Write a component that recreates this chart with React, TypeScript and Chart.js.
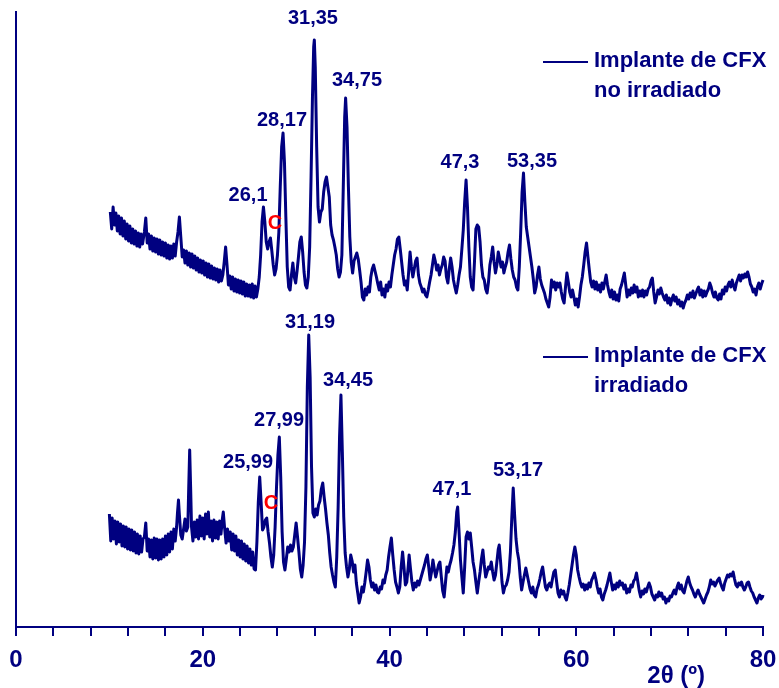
import { useEffect, useRef } from "react";
import { Chart, registerables } from "chart.js";

Chart.register(...registerables);

const NAVY = "#000080";
const RED = "#ff0000";
const FONT = "'Liberation Sans', Arial, Helvetica, sans-serif";

// axis
const xMin = 0;
const xMax = 80;
const xMinorStep = 4;
const xLabelStep = 20;
const xTitle = "2θ (º)";
const yMax = 615;

// series names
const seriesNames = ["Implante de CFX no irradiado", "Implante de CFX irradiado"];
const legendLines = [
  ["Implante de CFX", "no irradiado"],
  ["Implante de CFX", "irradiado"],
];

// [2θ (deg), intensity (a.u., stacked)]
const topPattern: [number, number][] = [
  [10.1, 415], [10.25, 398], [10.4, 420], [10.55, 402], [10.7, 414], [10.85, 396], [11.0, 411], [11.15, 393],
  [11.3, 409], [11.45, 391], [11.6, 406], [11.75, 388], [11.9, 403], [12.05, 386], [12.2, 401], [12.35, 384],
  [12.5, 398], [12.65, 383], [12.8, 396], [12.95, 381], [13.1, 394], [13.25, 380], [13.4, 393], [13.55, 383],
  [13.75, 395], [13.9, 409], [14.05, 384], [14.2, 393], [14.35, 378], [14.5, 391], [14.65, 376], [14.8, 389],
  [14.95, 375], [15.1, 388], [15.25, 373], [15.4, 387], [15.55, 372], [15.7, 385], [15.85, 371], [16.0, 384],
  [16.15, 369], [16.3, 382], [16.45, 368], [16.6, 381], [16.75, 369], [16.9, 383], [17.05, 371], [17.2, 385],
  [17.35, 395], [17.5, 410], [17.65, 390], [17.8, 370], [17.95, 377], [18.1, 364], [18.25, 376], [18.4, 362],
  [18.55, 374], [18.7, 360], [18.85, 373], [19.0, 359], [19.15, 371], [19.3, 357], [19.45, 369], [19.6, 355],
  [19.75, 367], [19.9, 354], [20.05, 366], [20.2, 352], [20.35, 364], [20.5, 350], [20.65, 363], [20.8, 349],
  [20.95, 361], [21.1, 348], [21.25, 359], [21.4, 347], [21.55, 358], [21.7, 345], [21.85, 357], [22.0, 346],
  [22.15, 352], [22.3, 365], [22.45, 380], [22.6, 362], [22.75, 342], [22.9, 351], [23.05, 338], [23.2, 350],
  [23.35, 336], [23.5, 348], [23.65, 335], [23.8, 347], [23.95, 334], [24.1, 346], [24.25, 333], [24.4, 345],
  [24.55, 331], [24.7, 343], [24.85, 331], [25.0, 342], [25.15, 330], [25.3, 343], [25.45, 329], [25.6, 341],
  [25.75, 330], [25.9, 338], [26.05, 350], [26.2, 372], [26.35, 405], [26.5, 420], [26.65, 405], [26.8, 385],
  [26.95, 378], [27.1, 385], [27.25, 389], [27.4, 376], [27.55, 362], [27.7, 352], [27.85, 358], [28.0, 372],
  [28.15, 395], [28.3, 440], [28.45, 480], [28.6, 494], [28.75, 465], [28.9, 410], [29.05, 360], [29.2, 340],
  [29.35, 337], [29.5, 352], [29.65, 364], [29.8, 350], [29.95, 344], [30.1, 356], [30.25, 370], [30.4, 385],
  [30.55, 390], [30.7, 375], [30.85, 355], [31.0, 342], [31.15, 339], [31.3, 350], [31.45, 380], [31.6, 450],
  [31.75, 530], [31.88, 580], [31.95, 587], [32.05, 560], [32.2, 480], [32.35, 420], [32.5, 405], [32.65, 415],
  [32.8, 418], [32.95, 435], [33.1, 445], [33.25, 450], [33.4, 440], [33.55, 430], [33.7, 402], [33.85, 392],
  [34.0, 387], [34.15, 380], [34.3, 372], [34.45, 358], [34.6, 350], [34.75, 355], [34.9, 372], [35.05, 440],
  [35.2, 510], [35.3, 529], [35.45, 500], [35.6, 440], [35.75, 390], [35.9, 365], [36.05, 354], [36.2, 366],
  [36.35, 370], [36.5, 374], [36.65, 368], [36.8, 357], [36.95, 345], [37.1, 330], [37.25, 327], [37.4, 338],
  [37.55, 332], [37.7, 340], [37.85, 335], [38.0, 350], [38.15, 358], [38.3, 362], [38.45, 356], [38.6, 350],
  [38.75, 343], [38.9, 337], [39.05, 345], [39.2, 332], [39.35, 338], [39.5, 330], [39.65, 342], [39.8, 336],
  [39.95, 345], [40.1, 340], [40.25, 352], [40.4, 362], [40.55, 372], [40.7, 378], [40.85, 388], [41.0, 390],
  [41.15, 378], [41.3, 365], [41.45, 352], [41.6, 342], [41.75, 346], [41.9, 337], [42.05, 355], [42.2, 375],
  [42.35, 360], [42.5, 350], [42.65, 358], [42.8, 366], [42.95, 369], [43.1, 352], [43.25, 344], [43.4, 340],
  [43.55, 335], [43.7, 338], [43.85, 332], [44.0, 330], [44.15, 337], [44.3, 345], [44.45, 352], [44.6, 362],
  [44.75, 372], [44.9, 366], [45.05, 357], [45.2, 362], [45.35, 352], [45.5, 358], [45.65, 362], [45.8, 370],
  [45.95, 366], [46.1, 350], [46.25, 344], [46.4, 358], [46.55, 369], [46.7, 360], [46.85, 347], [47.0, 340],
  [47.15, 334], [47.3, 342], [47.45, 352], [47.6, 360], [47.75, 378], [47.9, 397], [48.05, 425], [48.2, 447],
  [48.35, 420], [48.5, 380], [48.65, 350], [48.8, 340], [48.95, 337], [49.1, 365], [49.25, 398], [49.4, 402],
  [49.55, 400], [49.7, 385], [49.85, 362], [50.0, 350], [50.15, 347], [50.3, 338], [50.45, 334], [50.6, 345],
  [50.75, 362], [50.9, 370], [51.05, 380], [51.2, 365], [51.35, 354], [51.5, 362], [51.65, 375], [51.8, 368],
  [51.95, 360], [52.1, 365], [52.25, 354], [52.4, 360], [52.55, 365], [52.7, 375], [52.85, 382], [53.0, 368],
  [53.15, 357], [53.3, 350], [53.45, 347], [53.6, 340], [53.75, 337], [53.9, 360], [54.05, 395], [54.2, 435],
  [54.35, 454], [54.5, 425], [54.65, 400], [54.8, 390], [54.95, 380], [55.1, 370], [55.25, 360], [55.4, 348],
  [55.55, 334], [55.7, 340], [55.85, 352], [56.0, 360], [56.15, 348], [56.3, 342], [56.45, 338], [56.6, 334],
  [56.75, 328], [56.9, 324], [57.05, 320], [57.2, 330], [57.35, 347], [57.5, 340], [57.65, 345], [57.8, 337],
  [57.95, 344], [58.1, 340], [58.25, 344], [58.4, 335], [58.55, 328], [58.7, 324], [58.85, 340], [59.0, 354],
  [59.15, 345], [59.3, 335], [59.45, 330], [59.6, 337], [59.75, 330], [59.9, 322], [60.05, 328], [60.2, 320],
  [60.35, 330], [60.5, 342], [60.65, 350], [60.8, 362], [60.95, 375], [61.1, 384], [61.25, 370], [61.4, 357],
  [61.55, 345], [61.7, 340], [61.85, 346], [62.0, 338], [62.15, 345], [62.3, 337], [62.45, 342], [62.6, 335],
  [62.75, 344], [62.9, 338], [63.05, 345], [63.2, 352], [63.35, 342], [63.5, 335], [63.65, 330], [63.8, 337],
  [63.95, 328], [64.1, 335], [64.25, 327], [64.4, 332], [64.55, 326], [64.7, 338], [64.85, 342], [65.0, 348],
  [65.15, 354], [65.3, 342], [65.45, 330], [65.6, 337], [65.75, 332], [65.9, 339], [66.05, 334], [66.2, 342],
  [66.35, 335], [66.5, 340], [66.65, 330], [66.8, 336], [66.95, 331], [67.1, 337], [67.25, 330], [67.4, 336],
  [67.55, 332], [67.7, 338], [67.85, 340], [68.0, 346], [68.15, 349], [68.3, 335], [68.45, 324], [68.6, 330],
  [68.75, 337], [68.9, 333], [69.05, 339], [69.2, 334], [69.35, 330], [69.5, 327], [69.65, 332], [69.8, 324],
  [69.95, 329], [70.1, 322], [70.25, 328], [70.4, 332], [70.55, 326], [70.7, 330], [70.85, 323], [71.0, 327],
  [71.15, 321], [71.3, 325], [71.45, 319], [71.6, 324], [71.75, 327], [71.9, 332], [72.05, 328], [72.2, 334],
  [72.35, 330], [72.5, 336], [72.65, 329], [72.8, 333], [72.95, 337], [73.1, 340], [73.25, 332], [73.4, 337],
  [73.55, 330], [73.7, 336], [73.85, 331], [74.0, 335], [74.15, 338], [74.3, 344], [74.45, 340], [74.6, 334],
  [74.75, 330], [74.9, 335], [75.05, 329], [75.2, 327], [75.35, 333], [75.5, 328], [75.65, 337], [75.8, 333],
  [75.95, 340], [76.1, 336], [76.25, 342], [76.4, 345], [76.55, 340], [76.7, 347], [76.85, 341], [77.0, 337],
  [77.15, 344], [77.3, 348], [77.45, 352], [77.6, 346], [77.75, 352], [77.9, 349], [78.05, 353], [78.2, 350],
  [78.35, 355], [78.5, 350], [78.65, 343], [78.8, 340], [78.95, 335], [79.1, 338], [79.25, 332], [79.4, 340],
  [79.55, 344], [79.7, 338], [79.85, 343], [80.0, 347], [80.15, 340], [80.3, 332], [80.45, 327], [80.6, 333],
  [80.75, 330], [80.9, 334], [81.05, 328], [81.2, 324], [81.35, 330], [81.5, 327], [81.65, 331],
];

const bottomPattern: [number, number][] = [
  [10.0, 113], [10.15, 86], [10.3, 109], [10.45, 88], [10.6, 106], [10.75, 83], [10.9, 105], [11.05, 85],
  [11.2, 103], [11.35, 81], [11.5, 101], [11.65, 80], [11.8, 100], [11.95, 78], [12.1, 98], [12.25, 77],
  [12.4, 97], [12.55, 76], [12.7, 95], [12.85, 74], [13.0, 93], [13.15, 73], [13.3, 91], [13.45, 75],
  [13.6, 88], [13.75, 90], [13.9, 104], [14.05, 76], [14.2, 88], [14.35, 70], [14.5, 87], [14.65, 68],
  [14.8, 89], [14.95, 69], [15.1, 88], [15.25, 67], [15.4, 87], [15.55, 68], [15.7, 88], [15.85, 70],
  [16.0, 91], [16.15, 72], [16.3, 93], [16.45, 75], [16.6, 95], [16.75, 78], [16.9, 98], [17.05, 86],
  [17.2, 100], [17.3, 115], [17.4, 127], [17.5, 112], [17.65, 92], [17.8, 88], [17.95, 98], [18.1, 108],
  [18.25, 96], [18.4, 100], [18.5, 140], [18.6, 177], [18.7, 140], [18.8, 100], [18.95, 86], [19.1, 105],
  [19.25, 90], [19.4, 107], [19.55, 88], [19.7, 111], [19.85, 91], [20.0, 109], [20.15, 88], [20.3, 113],
  [20.45, 93], [20.6, 115], [20.75, 90], [20.9, 106], [21.05, 86], [21.2, 107], [21.35, 89], [21.5, 105],
  [21.65, 88], [21.8, 106], [21.95, 93], [22.1, 108], [22.2, 115], [22.35, 98], [22.5, 84], [22.65, 98],
  [22.8, 86], [22.95, 95], [23.1, 77], [23.25, 93], [23.4, 76], [23.55, 91], [23.7, 72], [23.85, 87],
  [24.0, 70], [24.15, 86], [24.3, 68], [24.45, 83], [24.6, 66], [24.75, 81], [24.9, 64], [25.05, 78],
  [25.2, 62], [25.35, 75], [25.5, 58], [25.65, 57], [25.8, 85], [25.95, 125], [26.1, 150], [26.25, 125],
  [26.4, 97], [26.55, 100], [26.7, 107], [26.85, 109], [27.0, 95], [27.15, 84], [27.3, 70], [27.45, 60],
  [27.6, 72], [27.75, 100], [27.9, 140], [28.05, 172], [28.2, 190], [28.35, 150], [28.5, 95], [28.65, 65],
  [28.8, 57], [28.95, 68], [29.1, 80], [29.25, 75], [29.4, 82], [29.55, 76], [29.7, 80], [29.85, 92],
  [30.0, 104], [30.15, 90], [30.3, 75], [30.45, 58], [30.6, 50], [30.75, 62], [30.9, 85], [31.05, 140],
  [31.2, 240], [31.35, 292], [31.5, 250], [31.65, 160], [31.8, 114], [31.95, 110], [32.1, 118], [32.25, 112],
  [32.4, 122], [32.55, 126], [32.7, 138], [32.85, 144], [33.0, 130], [33.15, 118], [33.3, 104], [33.45, 92],
  [33.6, 74], [33.75, 60], [33.9, 52], [34.05, 45], [34.2, 40], [34.35, 70], [34.5, 120], [34.65, 190],
  [34.8, 232], [34.95, 175], [35.1, 110], [35.25, 74], [35.4, 60], [35.55, 50], [35.7, 58], [35.85, 72],
  [36.0, 66], [36.15, 55], [36.3, 62], [36.45, 44], [36.6, 34], [36.75, 24], [36.9, 30], [37.05, 40],
  [37.2, 35], [37.35, 44], [37.5, 55], [37.65, 67], [37.8, 60], [37.95, 47], [38.1, 40], [38.25, 44],
  [38.4, 37], [38.55, 42], [38.7, 35], [38.85, 34], [39.0, 40], [39.15, 38], [39.3, 47], [39.45, 44],
  [39.6, 52], [39.75, 57], [39.9, 70], [40.05, 80], [40.2, 89], [40.35, 72], [40.5, 57], [40.65, 45],
  [40.8, 40], [40.95, 34], [41.1, 40], [41.25, 60], [41.4, 75], [41.55, 60], [41.7, 42], [41.85, 45],
  [42.0, 60], [42.1, 72], [42.25, 58], [42.4, 45], [42.55, 37], [42.7, 44], [42.85, 40], [43.0, 46],
  [43.15, 42], [43.3, 47], [43.45, 52], [43.6, 57], [43.75, 62], [43.9, 68], [44.05, 72], [44.2, 60],
  [44.35, 47], [44.5, 55], [44.65, 67], [44.8, 58], [44.95, 50], [45.1, 56], [45.25, 62], [45.4, 65],
  [45.55, 50], [45.7, 36], [45.85, 30], [46.0, 45], [46.15, 60], [46.3, 55], [46.45, 62], [46.6, 67],
  [46.75, 74], [46.9, 82], [47.05, 95], [47.2, 115], [47.3, 120], [47.45, 95], [47.6, 67], [47.75, 50],
  [47.9, 34], [48.05, 60], [48.2, 90], [48.35, 95], [48.5, 88], [48.65, 94], [48.8, 80], [48.95, 65],
  [49.1, 57], [49.25, 45], [49.4, 34], [49.55, 45], [49.7, 55], [49.85, 68], [50.0, 77], [50.15, 62],
  [50.3, 50], [50.45, 55], [50.6, 60], [50.75, 58], [50.9, 65], [51.05, 55], [51.2, 47], [51.35, 52],
  [51.5, 65], [51.65, 78], [51.75, 82], [51.9, 65], [52.05, 45], [52.2, 34], [52.35, 40], [52.5, 42],
  [52.65, 47], [52.8, 55], [52.95, 75], [53.1, 110], [53.25, 139], [53.4, 112], [53.55, 88], [53.7, 75],
  [53.85, 67], [54.0, 50], [54.15, 37], [54.3, 45], [54.45, 52], [54.6, 59], [54.75, 52], [54.9, 45],
  [55.05, 38], [55.2, 34], [55.35, 40], [55.5, 32], [55.65, 30], [55.8, 38], [55.95, 42], [56.1, 48],
  [56.25, 55], [56.4, 60], [56.55, 50], [56.7, 40], [56.85, 37], [57.0, 42], [57.15, 44], [57.3, 40],
  [57.45, 48], [57.6, 55], [57.75, 57], [57.9, 45], [58.05, 34], [58.2, 30], [58.35, 37], [58.5, 33],
  [58.65, 36], [58.8, 30], [58.95, 27], [59.1, 34], [59.25, 42], [59.4, 52], [59.55, 62], [59.7, 72],
  [59.85, 80], [60.0, 72], [60.15, 57], [60.3, 50], [60.45, 44], [60.6, 40], [60.75, 43], [60.9, 37],
  [61.05, 42], [61.2, 38], [61.35, 44], [61.5, 40], [61.65, 47], [61.8, 50], [61.95, 54], [62.1, 48],
  [62.25, 40], [62.4, 34], [62.55, 38], [62.7, 30], [62.85, 27], [63.0, 33], [63.15, 37], [63.3, 42],
  [63.45, 48], [63.6, 54], [63.75, 45], [63.9, 37], [64.05, 42], [64.2, 38], [64.35, 44], [64.5, 40],
  [64.65, 46], [64.8, 42], [64.95, 44], [65.1, 38], [65.25, 42], [65.4, 34], [65.55, 38], [65.7, 35],
  [65.85, 42], [66.0, 40], [66.15, 46], [66.3, 48], [66.45, 54], [66.6, 45], [66.75, 36], [66.9, 30],
  [67.05, 36], [67.2, 33], [67.35, 38], [67.5, 35], [67.65, 40], [67.8, 44], [67.95, 40], [68.1, 33],
  [68.25, 30], [68.4, 27], [68.55, 32], [68.7, 30], [68.85, 35], [69.0, 31], [69.15, 34], [69.3, 28],
  [69.45, 30], [69.6, 24], [69.75, 28], [69.9, 26], [70.05, 31], [70.2, 30], [70.35, 34], [70.5, 37],
  [70.65, 33], [70.8, 40], [70.95, 44], [71.1, 38], [71.25, 42], [71.4, 36], [71.55, 34], [71.7, 40],
  [71.85, 46], [72.0, 50], [72.15, 44], [72.3, 40], [72.45, 37], [72.6, 33], [72.75, 30], [72.9, 34],
  [73.05, 37], [73.2, 33], [73.35, 30], [73.5, 27], [73.65, 24], [73.8, 28], [73.95, 32], [74.1, 35],
  [74.25, 40], [74.4, 47], [74.55, 43], [74.7, 45], [74.85, 41], [75.0, 44], [75.15, 47], [75.3, 49],
  [75.45, 44], [75.6, 40], [75.75, 37], [75.9, 44], [76.05, 48], [76.2, 52], [76.35, 50], [76.5, 53],
  [76.65, 51], [76.8, 55], [76.95, 48], [77.1, 42], [77.25, 40], [77.4, 44], [77.55, 42], [77.7, 45],
  [77.85, 40], [78.0, 37], [78.15, 40], [78.3, 44], [78.45, 45], [78.6, 40], [78.75, 36], [78.9, 34],
  [79.05, 30], [79.2, 27], [79.35, 24], [79.5, 29], [79.65, 32], [79.8, 28], [79.95, 30], [80.0, 32],
];

// peak annotations: text, anchor 2θ, anchor intensity
const topPeakLabels = [
  { text: "26,1", x: 24.85, y: 432 },
  { text: "28,17", x: 28.49, y: 507 },
  { text: "31,35", x: 31.8, y: 609 },
  { text: "34,75", x: 36.52, y: 547 },
  { text: "47,3", x: 47.55, y: 465 },
  { text: "53,35", x: 55.26, y: 466 },
];
const bottomPeakLabels = [
  { text: "25,99", x: 24.85, y: 165 },
  { text: "27,99", x: 28.17, y: 207 },
  { text: "31,19", x: 31.49, y: 305 },
  { text: "34,45", x: 35.56, y: 247 },
  { text: "47,1", x: 46.69, y: 138 },
  { text: "53,17", x: 53.76, y: 157 },
];
const carbonMarks = [
  { text: "C", x: 27.74, y: 404 },
  { text: "C", x: 27.31, y: 124 },
];

// legend anchors (2θ of line start, intensity of line)
const legendAnchors = [
  { x: 56.44, y: 565 },
  { x: 56.44, y: 270 },
];

const annotate = {
  id: "annotate",
  afterDatasetsDraw(chart: any) {
    const { ctx, scales } = chart;
    const xs = scales.x;
    const ys = scales.y;
    ctx.save();
    ctx.textAlign = "center";
    ctx.textBaseline = "middle";
    ctx.fillStyle = NAVY;
    ctx.font = `bold 20px ${FONT}`;
    for (const l of [...topPeakLabels, ...bottomPeakLabels]) {
      ctx.fillText(l.text, xs.getPixelForValue(l.x), ys.getPixelForValue(l.y));
    }
    ctx.fillStyle = RED;
    for (const c of carbonMarks) {
      ctx.fillText(c.text, xs.getPixelForValue(c.x), ys.getPixelForValue(c.y));
    }
    chart.data.datasets.forEach((ds: any, i: number) => {
      const a = legendAnchors[i];
      const lx = xs.getPixelForValue(a.x);
      const ly = ys.getPixelForValue(a.y);
      ctx.strokeStyle = ds.borderColor;
      ctx.lineWidth = 2;
      ctx.beginPath();
      ctx.moveTo(lx, ly);
      ctx.lineTo(lx + 45, ly);
      ctx.stroke();
      ctx.fillStyle = NAVY;
      ctx.font = `bold 22px ${FONT}`;
      ctx.textAlign = "left";
      legendLines[i].forEach((t, k) => {
        ctx.fillText(t, lx + 51, ly - 1 + k * 30);
      });
    });
    ctx.textAlign = "center";
    ctx.font = `bold 24px ${FONT}`;
    ctx.fillStyle = NAVY;
    ctx.fillText(xTitle, xs.getPixelForValue(70.7), chart.height - 12);
    ctx.restore();
  },
};

export default function App() {
  const ref = useRef<HTMLCanvasElement | null>(null);
  useEffect(() => {
    if (!ref.current) return;
    const mk = (label: string, pts: [number, number][]) => ({
      label,
      data: pts.map(([x, y]) => ({ x, y })),
      borderColor: NAVY,
      borderWidth: 3,
      pointRadius: 0,
      tension: 0,
      clip: false as any,
      borderJoinStyle: "round" as const,
    });
    const chart = new Chart(ref.current, {
      type: "line",
      data: {
        datasets: [mk(seriesNames[0], topPattern), mk(seriesNames[1], bottomPattern)],
      },
      options: {
        responsive: false,
        animation: false,
        layout: { padding: { top: 12, right: 16, left: 0, bottom: 0 } },
        plugins: { legend: { display: false }, tooltip: { enabled: false } },
        scales: {
          x: {
            type: "linear",
            min: xMin,
            max: xMax,
            afterFit: (s: any) => {
              s.height = 61;
              s.paddingLeft = 0;
              s.paddingRight = 0;
            },
            border: { display: true, color: NAVY, width: 2 },
            grid: {
              display: true,
              drawOnChartArea: false,
              drawTicks: true,
              tickLength: 9,
              tickWidth: 2,
              tickColor: NAVY,
              color: NAVY,
              lineWidth: 2,
            },
            ticks: {
              stepSize: xMinorStep,
              autoSkip: false,
              maxRotation: 0,
              padding: 10,
              color: NAVY,
              font: { family: FONT, size: 24, weight: "bold" },
              callback: (v: any) => (Number(v) % xLabelStep === 0 ? String(v) : ""),
            },
          },
          y: {
            type: "linear",
            min: 0,
            max: yMax,
            afterFit: (s: any) => {
              s.width = 16;
            },
            border: { display: true, color: NAVY, width: 2 },
            grid: { display: false },
            ticks: { display: false },
          },
        },
      },
      plugins: [annotate],
    });
    return () => chart.destroy();
  }, []);
  return (
    <div style={{ position: "fixed", left: 0, top: 0, width: 779, height: 688, background: "#fff" }}>
      <canvas ref={ref} width={779} height={688} style={{ display: "block" }} />
    </div>
  );
}
